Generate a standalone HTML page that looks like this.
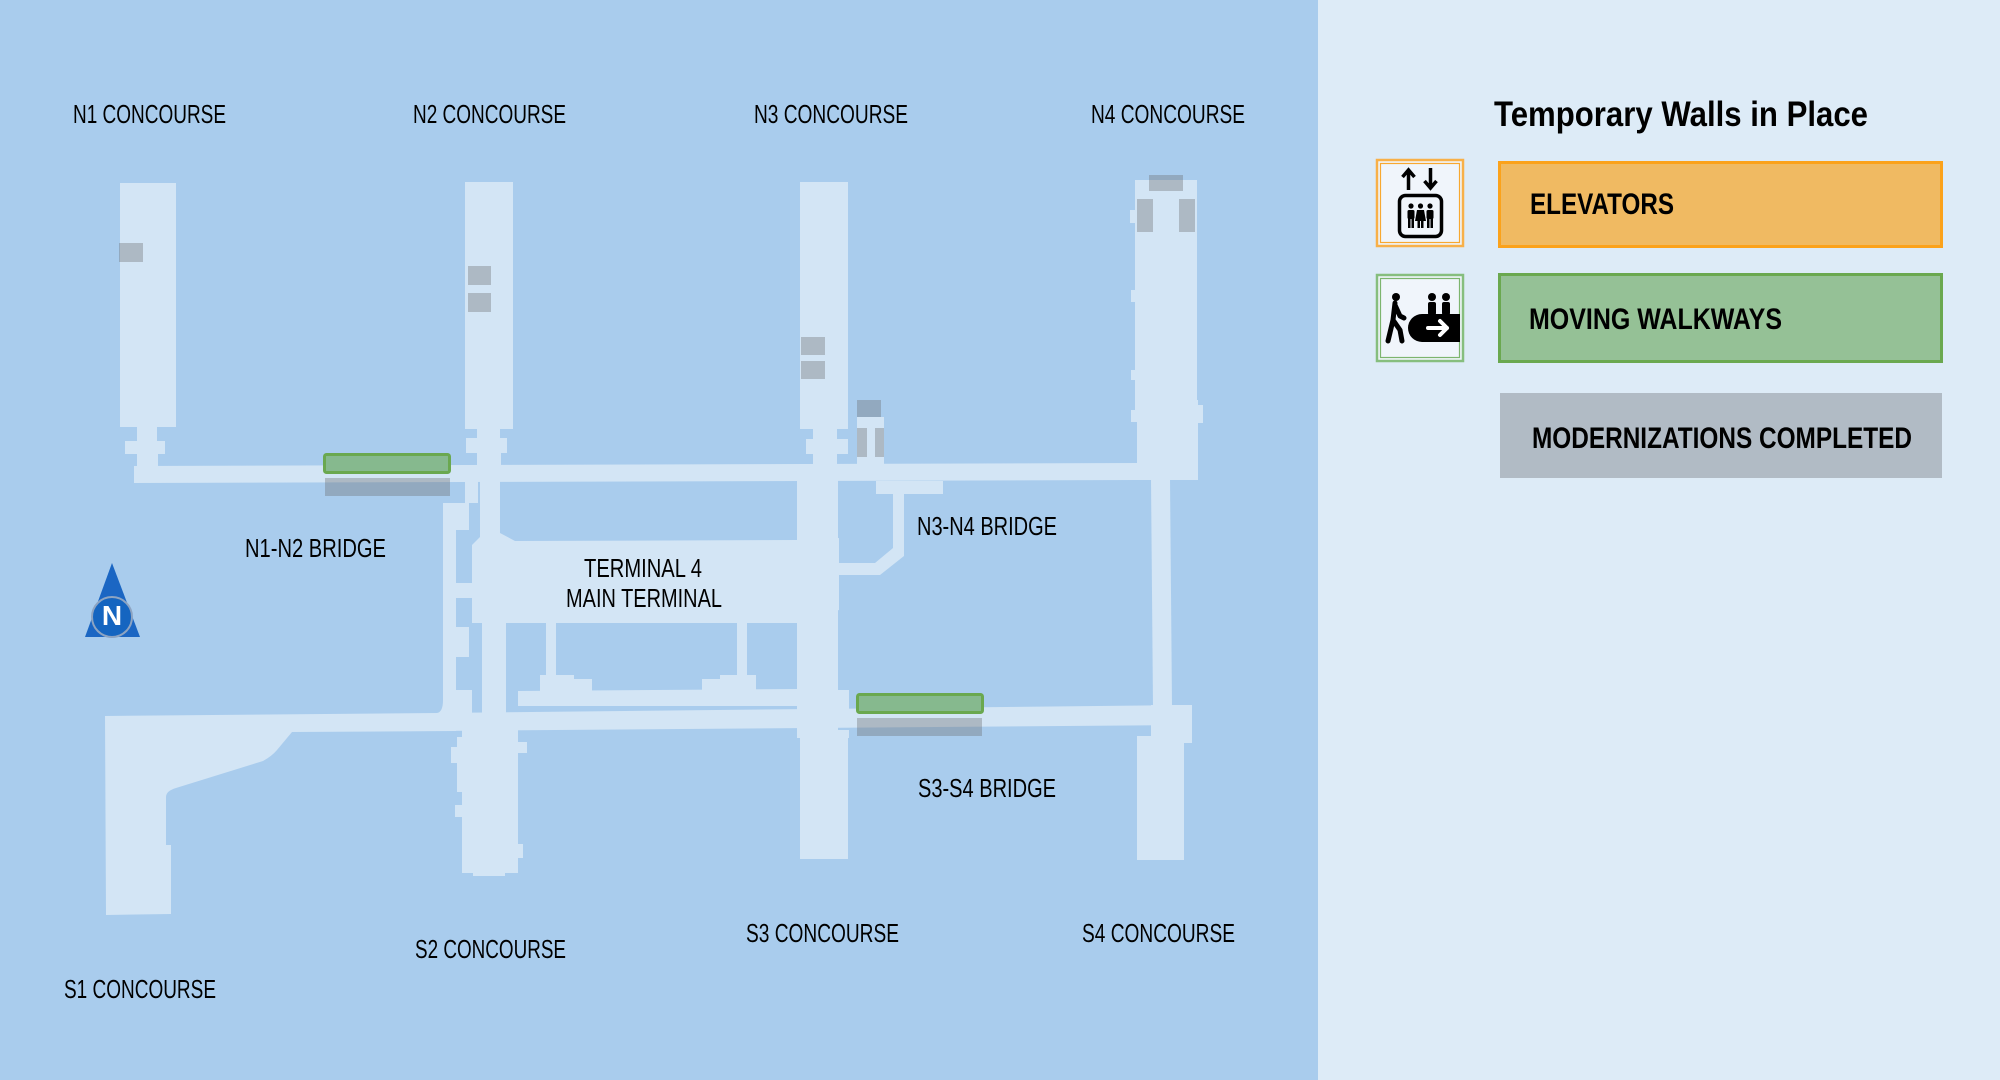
<!DOCTYPE html>
<html>
<head>
<meta charset="utf-8">
<style>
  html,body{margin:0;padding:0;background:#A9CCED;}
  svg{display:block;}
  .lbl{font-family:"Liberation Sans Narrow","Liberation Sans",sans-serif;font-size:26px;fill:#000;}
  .lg{font-family:"Liberation Sans Narrow","Liberation Sans",sans-serif;font-weight:bold;fill:#000;}
</style>
</head>
<body>
<svg width="2000" height="1080" viewBox="0 0 2000 1080" xmlns="http://www.w3.org/2000/svg">
  <!-- backgrounds -->
  <rect x="0" y="0" width="1318" height="1080" fill="#A9CCED"/>
  <rect x="1318" y="0" width="682" height="1080" fill="#DDEBF7"/>

  <!-- ============ BUILDINGS ============ -->
  <g fill="#D3E5F5">
    <!-- N1 -->
    <rect x="120" y="183" width="56" height="244"/>
    <rect x="137" y="426" width="20" height="16"/>
    <rect x="125" y="441" width="40" height="13"/>
    <rect x="137" y="453" width="21" height="14"/>
    <!-- North corridor -->
    <polygon points="134,466 1137,463 1137,480 134,483"/>
    <!-- N2 -->
    <rect x="465" y="182" width="48" height="247"/>
    <rect x="477" y="428" width="23" height="11"/>
    <rect x="466" y="438" width="41" height="15"/>
    <rect x="477" y="452" width="24" height="13"/>
    <rect x="480" y="480" width="20" height="62"/>
    <rect x="465" y="481" width="13" height="22"/>
    <rect x="443" y="503" width="26" height="27"/>
    <rect x="443" y="503" width="13" height="212"/>
    <rect x="455" y="583" width="18" height="15"/>
    <rect x="455" y="627" width="14" height="30"/>
    <rect x="456" y="690" width="16" height="24"/>
    <!-- Main hall -->
    <polygon points="472,545 480,537 500,533 515,541 797,540 839,538 839,610 833,612 833,623 472,623"/>
    <!-- below hall -->
    <rect x="482" y="620" width="24" height="95"/>
    <rect x="546" y="620" width="10" height="58"/>
    <rect x="737" y="620" width="10" height="58"/>
    <rect x="540" y="675" width="34" height="16"/>
    <rect x="574" y="679" width="18" height="12"/>
    <rect x="702" y="679" width="20" height="12"/>
    <rect x="720" y="675" width="36" height="16"/>
    <polygon points="518,691 798,689 798,706 518,706"/>
    <!-- N3 -->
    <rect x="800" y="182" width="48" height="247"/>
    <rect x="813" y="428" width="24" height="12"/>
    <rect x="806" y="439" width="42" height="15"/>
    <rect x="813" y="453" width="24" height="12"/>
    <rect x="857" y="417" width="27" height="47"/>
    <rect x="797" y="480" width="41" height="258"/>
    <rect x="797" y="730" width="52" height="8"/>
    <rect x="833" y="690" width="16" height="22"/>
    <polygon points="876,481 943,481 943,494 904,494 904,556 880,575 838,575 838,563 875,563 893,548 893,494 876,494"/>
    <!-- S3 -->
    <rect x="800" y="736" width="48" height="123"/>
    <!-- N4 -->
    <rect x="1135" y="180" width="62" height="240"/>
    <rect x="1137" y="400" width="61" height="80"/>
    <rect x="1130" y="210" width="7" height="13"/>
    <rect x="1131" y="290" width="6" height="12"/>
    <rect x="1131" y="370" width="6" height="10"/>
    <rect x="1131" y="410" width="6" height="12"/>
    <rect x="1195" y="405" width="8" height="18"/>
    <polygon points="1151,478 1170,478 1172,707 1153,707"/>
    <!-- South corridor -->
    <polygon points="437,713 1192,705 1192,725 437,731"/>
    <rect x="1151" y="705" width="41" height="38"/>
    <!-- S4 -->
    <rect x="1137" y="736" width="47" height="124"/>
    <!-- S1 -->
    <path d="M105,716 L437,713 Q443,712 443,700 L456,700 L456,731 L292,732 L277,750 Q272,756 263,761 L176,788 Q166,791 166,797 L166,845 L171,845 L171,914 L106,915 Z"/>
    <!-- S2 -->
    <rect x="462" y="725" width="56" height="148"/>
    <rect x="473" y="870" width="32" height="6"/>
    <rect x="451" y="747" width="12" height="16"/>
    <rect x="457" y="737" width="6" height="55"/>
    <rect x="455" y="805" width="8" height="12"/>
    <rect x="517" y="742" width="10" height="11"/>
    <rect x="517" y="844" width="6" height="14"/>
  </g>

  <!-- ============ GRAY (modernizations) ============ -->
  <g fill="#67666A" fill-opacity="0.35">
    <rect x="119" y="243" width="24" height="19"/>
    <rect x="468" y="266" width="23" height="19"/>
    <rect x="468" y="293" width="23" height="19"/>
    <rect x="801" y="337" width="24" height="18"/>
    <rect x="801" y="361" width="24" height="18"/>
    <rect x="857" y="400" width="24" height="17"/>
    <rect x="857" y="428" width="10" height="29"/>
    <rect x="875" y="428" width="9" height="29"/>
    <rect x="1149" y="175" width="34" height="16"/>
    <rect x="1137" y="199" width="16" height="33"/>
    <rect x="1179" y="199" width="16" height="33"/>
    <rect x="325" y="478" width="125" height="18"/>
    <rect x="857" y="718" width="125" height="18"/>
  </g>

  <!-- ============ WALKWAYS ============ -->
  <rect x="324.5" y="454.5" width="125" height="18" rx="2" fill="#86B98E" stroke="#6AA84F" stroke-width="3"/>
  <rect x="857.5" y="694.5" width="125" height="18" rx="2" fill="#86B98E" stroke="#6AA84F" stroke-width="3"/>

  <!-- ============ NORTH ARROW ============ -->
  <polygon points="112,563 85,637 140,637" fill="#1B66C3"/>
  <circle cx="112" cy="617" r="20" fill="#1565C0" stroke="#8DA4C2" stroke-width="2"/>
  <text x="112" y="625" text-anchor="middle" font-family="Liberation Sans, sans-serif" font-weight="bold" font-size="28" fill="#fff">N</text>

  <!-- ============ MAP LABELS ============ -->
  <text class="lbl" x="73" y="123" textLength="153" lengthAdjust="spacingAndGlyphs">N1 CONCOURSE</text>
  <text class="lbl" x="413" y="123" textLength="153" lengthAdjust="spacingAndGlyphs">N2 CONCOURSE</text>
  <text class="lbl" x="754" y="123" textLength="154" lengthAdjust="spacingAndGlyphs">N3 CONCOURSE</text>
  <text class="lbl" x="1091" y="123" textLength="154" lengthAdjust="spacingAndGlyphs">N4 CONCOURSE</text>

  <text class="lbl" x="245" y="557" textLength="141" lengthAdjust="spacingAndGlyphs">N1-N2 BRIDGE</text>
  <text class="lbl" x="917" y="535" textLength="140" lengthAdjust="spacingAndGlyphs">N3-N4 BRIDGE</text>
  <text class="lbl" x="918" y="797" textLength="138" lengthAdjust="spacingAndGlyphs">S3-S4 BRIDGE</text>

  <text class="lbl" x="584" y="577" textLength="118" lengthAdjust="spacingAndGlyphs">TERMINAL 4</text>
  <text class="lbl" x="566" y="607" textLength="156" lengthAdjust="spacingAndGlyphs">MAIN TERMINAL</text>

  <text class="lbl" x="64" y="998" textLength="152" lengthAdjust="spacingAndGlyphs">S1 CONCOURSE</text>
  <text class="lbl" x="415" y="958" textLength="151" lengthAdjust="spacingAndGlyphs">S2 CONCOURSE</text>
  <text class="lbl" x="746" y="942" textLength="153" lengthAdjust="spacingAndGlyphs">S3 CONCOURSE</text>
  <text class="lbl" x="1082" y="942" textLength="153" lengthAdjust="spacingAndGlyphs">S4 CONCOURSE</text>

  <!-- ============ LEGEND ============ -->
  <text class="lg" x="1494" y="126" font-size="35" textLength="374" lengthAdjust="spacingAndGlyphs">Temporary Walls in Place</text>

  <!-- elevator icon -->
  <rect x="1377" y="160" width="86" height="86" fill="#F0F5FB" stroke="#F8B048" stroke-width="2.5"/>
  <rect x="1380.5" y="163.5" width="79" height="79" fill="none" stroke="#F8A830" stroke-width="1.2"/>
  <path d="M1408.5 190 V171 M1402.5 177 L1408.5 170 L1414.5 177" stroke="#000" stroke-width="3.5" fill="none"/>
  <path d="M1430.5 168 V187 M1424.5 181 L1430.5 188 L1436.5 181" stroke="#000" stroke-width="3.5" fill="none"/>
  <rect x="1399.5" y="195.5" width="42" height="41" rx="6" stroke="#000" stroke-width="3.5" fill="none"/>
  <g fill="#000">
    <circle cx="1411" cy="206" r="2.6"/><rect x="1407.5" y="210" width="7" height="9" rx="1.5"/><rect x="1408" y="218" width="2.5" height="10"/><rect x="1411.5" y="218" width="2.5" height="10"/>
    <circle cx="1420.5" cy="206" r="2.6"/><polygon points="1417,210 1424,210 1426,221 1415,221"/><rect x="1417.5" y="220" width="2.5" height="8"/><rect x="1421" y="220" width="2.5" height="8"/>
    <circle cx="1430" cy="206" r="2.6"/><rect x="1426.5" y="210" width="7" height="9" rx="1.5"/><rect x="1427" y="218" width="2.5" height="10"/><rect x="1430.5" y="218" width="2.5" height="10"/>
  </g>

  <!-- walkway icon -->
  <rect x="1377" y="275" width="86" height="86" fill="#F0F5FB" stroke="#86BE7E" stroke-width="2.5"/>
  <rect x="1380.5" y="278.5" width="79" height="79" fill="none" stroke="#7DB56E" stroke-width="1.2"/>
  <g fill="#000" stroke="none">
    <circle cx="1396" cy="297" r="4"/>
    <circle cx="1432" cy="297" r="4"/>
    <circle cx="1446" cy="297" r="4"/>
    <rect x="1428" y="302" width="8" height="13" rx="2"/>
    <rect x="1442" y="302" width="8" height="13" rx="2"/>
    <path d="M1460 314 H1422 A14 14 0 0 0 1422 342 H1460 Z"/>
  </g>
  <path d="M1395 303 L1393 320 L1388 341 M1393 320 L1400 330 L1402 341 M1395 305 L1400 316 L1404 318" stroke="#000" stroke-width="5" fill="none" stroke-linecap="round" stroke-linejoin="round"/>
  <path d="M1428 328 H1447 M1440 321 L1447 328 L1440 335" stroke="#fff" stroke-width="4" fill="none" stroke-linecap="round" stroke-linejoin="round"/>

  <!-- legend boxes -->
  <rect x="1499.5" y="162.5" width="442" height="84" fill="#F0BA62" stroke="#FBA21B" stroke-width="3"/>
  <text class="lg" x="1530" y="214" font-size="30" textLength="144" lengthAdjust="spacingAndGlyphs">ELEVATORS</text>

  <rect x="1499.5" y="274.5" width="442" height="87" fill="#95C196" stroke="#6AA84F" stroke-width="3"/>
  <text class="lg" x="1529" y="329" font-size="30" textLength="253" lengthAdjust="spacingAndGlyphs">MOVING WALKWAYS</text>

  <rect x="1500" y="393" width="442" height="85" fill="#B1BBC5"/>
  <text class="lg" x="1532" y="448" font-size="30" textLength="380" lengthAdjust="spacingAndGlyphs">MODERNIZATIONS COMPLETED</text>
</svg>
</body>
</html>
